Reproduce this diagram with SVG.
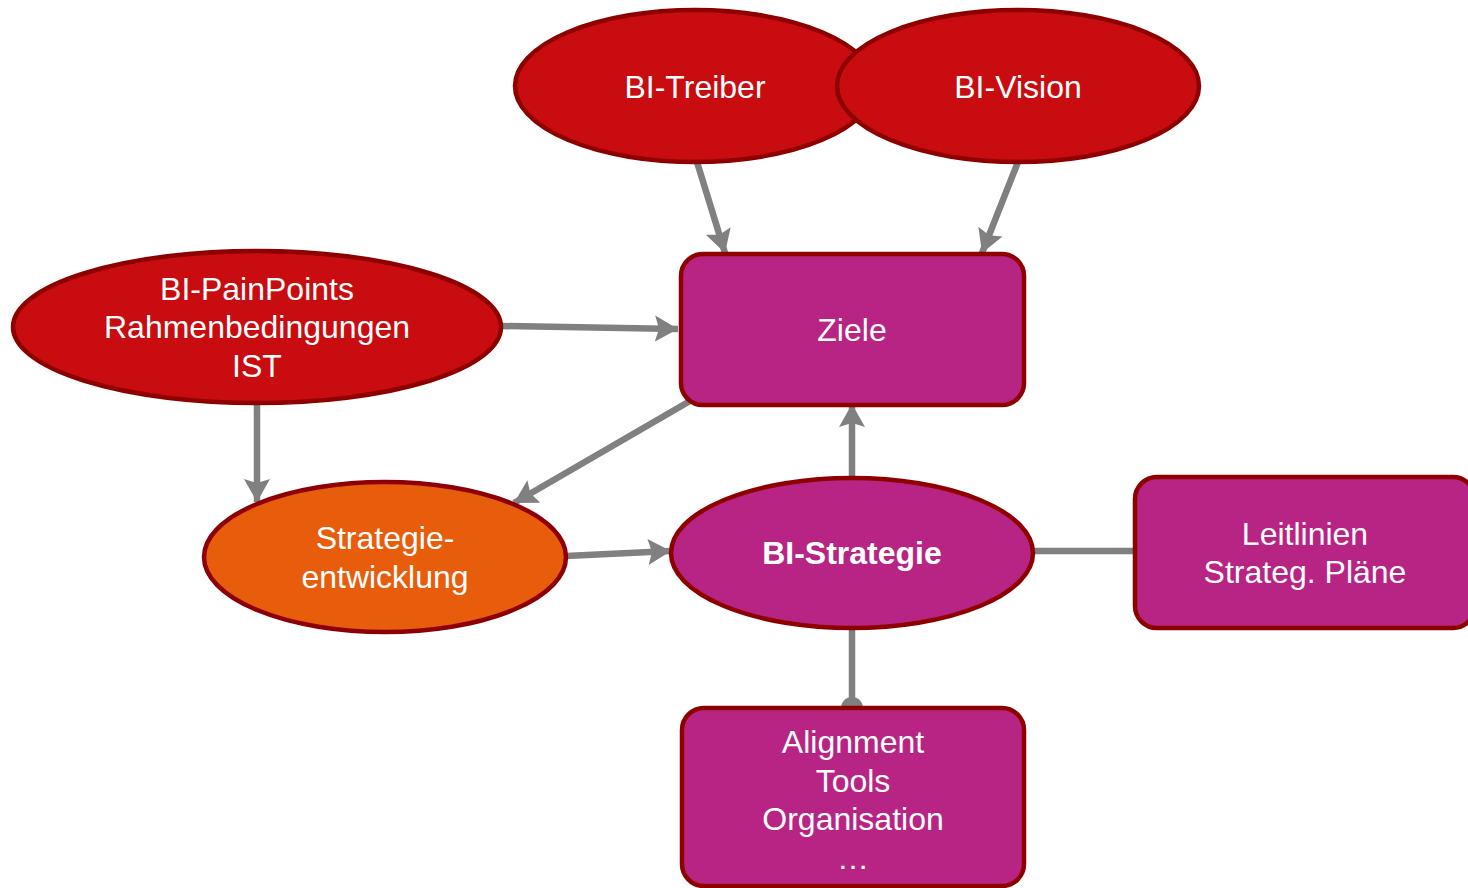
<svg xmlns="http://www.w3.org/2000/svg" width="1468" height="888" viewBox="0 0 1468 888">
  <style>
    .red { fill: #c80c10; stroke: #8e0000; stroke-width: 4.5; }
    .orange { fill: #e85d0c; stroke: #8e0000; stroke-width: 4.5; }
    .mag { fill: #b82484; stroke: #8e0000; stroke-width: 4.5; }
    .lbl { fill: #ffffff; font-family: "Liberation Sans", Arial, sans-serif; font-size: 32px; text-anchor: middle; }
    .bold { font-weight: bold; }
    .edge { stroke: #808080; stroke-width: 6.5; fill: none; }
  </style>
  <defs>
    <marker id="arrow" markerUnits="userSpaceOnUse" markerWidth="28" markerHeight="28" viewBox="0 0 28 28" refX="23" refY="14" orient="auto">
      <path d="M0,1 L23,14 L0,27 L4,14 Z" fill="#808080"/>
    </marker>
    <marker id="dot" markerUnits="userSpaceOnUse" markerWidth="24" markerHeight="24" viewBox="0 0 24 24" refX="12" refY="12" orient="auto">
      <circle cx="12" cy="12" r="11" fill="#808080"/>
    </marker>
  </defs>

  <!-- connectors -->
  <g id="connectors">
    <line class="edge" x1="697" y1="162" x2="725" y2="253" marker-end="url(#arrow)"/>
    <line class="edge" x1="1018" y1="162" x2="982" y2="253" marker-end="url(#arrow)"/>
    <line class="edge" x1="501" y1="326" x2="678" y2="329" marker-end="url(#arrow)"/>
    <line class="edge" x1="257" y1="403" x2="257" y2="502" marker-end="url(#arrow)"/>
    <line class="edge" x1="690" y1="401" x2="514" y2="503" marker-end="url(#arrow)"/>
    <line class="edge" x1="566" y1="556" x2="671" y2="551" marker-end="url(#arrow)"/>
    <line class="edge" x1="852" y1="477" x2="852" y2="404" marker-end="url(#arrow)"/>
    <line class="edge" x1="1033" y1="551" x2="1135" y2="551"/>
    <line class="edge" x1="852" y1="628" x2="852" y2="708" marker-end="url(#dot)"/>
  </g>

  <g id="bi-treiber">
    <ellipse class="red" cx="695" cy="86" rx="180" ry="76"/>
    <text class="lbl" x="695" y="98">BI-Treiber</text>
  </g>
  <g id="bi-vision">
    <ellipse class="red" cx="1018" cy="86" rx="181" ry="76"/>
    <text class="lbl" x="1018" y="98">BI-Vision</text>
  </g>
  <g id="bi-painpoints">
    <ellipse class="red" cx="257" cy="327" rx="244" ry="76"/>
    <text class="lbl" x="257" y="300">BI-PainPoints</text>
    <text class="lbl" x="257" y="338">Rahmenbedingungen</text>
    <text class="lbl" x="257" y="377">IST</text>
  </g>
  <g id="ziele">
    <rect class="mag" x="681" y="254" width="343" height="151" rx="22"/>
    <text class="lbl" x="852" y="341">Ziele</text>
  </g>
  <g id="strategieentwicklung">
    <ellipse class="orange" cx="385" cy="557" rx="181" ry="75"/>
    <text class="lbl" x="385" y="549">Strategie-</text>
    <text class="lbl" x="385" y="588">entwicklung</text>
  </g>
  <g id="bi-strategie">
    <ellipse class="mag" cx="852" cy="553" rx="181" ry="75"/>
    <text class="lbl bold" x="852" y="564">BI-Strategie</text>
  </g>
  <g id="leitlinien">
    <rect class="mag" x="1135" y="477" width="340" height="151" rx="22"/>
    <text class="lbl" x="1305" y="545">Leitlinien</text>
    <text class="lbl" x="1305" y="583">Strateg. Pläne</text>
  </g>
  <g id="alignment">
    <rect class="mag" x="682" y="708" width="342" height="178" rx="22"/>
    <text class="lbl" x="853" y="753">Alignment</text>
    <text class="lbl" x="853" y="792">Tools</text>
    <text class="lbl" x="853" y="830">Organisation</text>
    <text class="lbl" x="853" y="869">…</text>
  </g>
</svg>
